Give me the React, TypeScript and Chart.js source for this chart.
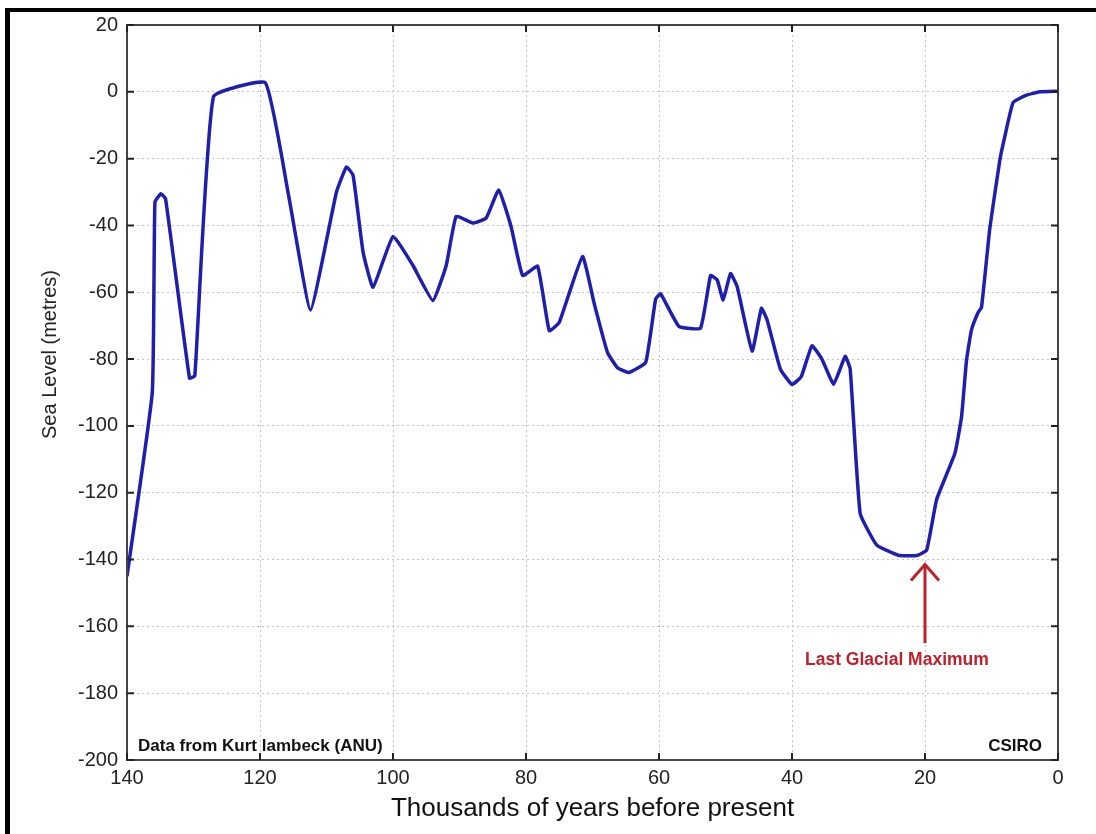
import React, { useEffect, useRef } from "react";
import { Chart, registerables } from "chart.js";

Chart.register(...registerables);

// Age in thousands of years before present
const YEARS_KA = [
  140, 136.2, 135.8, 134.9, 134.2, 130.6, 129.8, 127.0, 119.2, 115.7,
  112.4, 108.5, 107, 106, 104.5, 103, 100, 97, 94, 92,
  90.5, 88, 86, 84.1, 82.25, 80.5, 78.25, 76.5, 75, 71.5,
  69.75, 67.75, 66.25, 64.5, 62, 60.5, 59.75, 57, 53.75, 52.25,
  51.25, 50.35, 49.25, 48.25, 46, 44.6, 43.75, 41.75, 40, 38.6,
  37, 35.5, 33.75, 32, 31.25, 29.75, 27.25, 24, 21.25, 19.75,
  18.25, 15.5, 14.5, 13.75, 13, 12, 11.5, 10.25, 8.75, 8,
  6.75, 4.75, 2.75, 0,
];

// Sea level in metres relative to present
const SEA_LEVEL_M = [
  -145, -90, -33, -30.5, -32, -85.7, -85, -1.5, 2.7, -31,
  -65.3, -30, -22.5, -25, -48, -58.5, -43.3, -52, -62.5, -52,
  -37.3, -39.3, -37.8, -29.4, -40.3, -55, -52.2, -71.5, -69, -49.3,
  -63.3, -78, -82.6, -84, -81, -62, -60.5, -70.2, -70.7, -55,
  -56.3, -62.3, -54.4, -58.3, -77.6, -64.8, -68.2, -83, -87.6, -85.2,
  -76, -80, -87.5, -79.2, -83, -126.2, -135.7, -138.7, -138.8, -137.2,
  -122, -108.2, -97.2, -80.2, -71.2, -66, -64.5, -40.8, -20.5, -13.4,
  -3.2, -1, 0, 0.2,
];

const X_TICKS = [140, 120, 100, 80, 60, 40, 20, 0];
const Y_TICKS = [20, 0, -20, -40, -60, -80, -100, -120, -140, -160, -180, -200];

const X_TITLE = "Thousands of years before present";
const Y_TITLE = "Sea Level (metres)";
const SOURCE_NOTE = "Data from Kurt lambeck (ANU)";
const CREDIT = "CSIRO";
const LGM_LABEL = "Last Glacial Maximum";
const LGM_AGE = 20;
const LGM_ARROW_TIP = -141.5;
const LGM_ARROW_TAIL = -165;
const LGM_TEXT_LEVEL = -171.6;

const FONT = '"Liberation Sans", Arial, Helvetica, sans-serif';

const overlayPlugin = {
  id: "overlay",
  afterDraw(chart: any) {
    const { ctx, chartArea: a, scales } = chart;
    const x = scales.x;
    const y = scales.y;
    ctx.save();

    // axes box
    ctx.strokeStyle = "#444";
    ctx.lineWidth = 2;
    ctx.strokeRect(a.left, a.top, a.right - a.left, a.bottom - a.top);

    // inward ticks
    ctx.strokeStyle = "#222";
    ctx.lineWidth = 2;
    ctx.beginPath();
    X_TICKS.forEach((t) => {
      const px = x.getPixelForValue(t);
      ctx.moveTo(px, a.bottom);
      ctx.lineTo(px, a.bottom - 7);
      ctx.moveTo(px, a.top);
      ctx.lineTo(px, a.top + 7);
    });
    Y_TICKS.forEach((v) => {
      const py = y.getPixelForValue(v);
      ctx.moveTo(a.left, py);
      ctx.lineTo(a.left + 7, py);
      ctx.moveTo(a.right, py);
      ctx.lineTo(a.right - 7, py);
    });
    ctx.stroke();

    // corner notes
    ctx.fillStyle = "#111";
    ctx.font = `bold 17px ${FONT}`;
    ctx.textBaseline = "alphabetic";
    ctx.textAlign = "left";
    ctx.fillText(SOURCE_NOTE, a.left + 11, a.bottom - 9);
    ctx.textAlign = "right";
    ctx.fillText(CREDIT, a.right - 16, a.bottom - 9);

    // LGM arrow
    const ax = x.getPixelForValue(LGM_AGE);
    const tip = y.getPixelForValue(LGM_ARROW_TIP);
    const tail = y.getPixelForValue(LGM_ARROW_TAIL);
    ctx.strokeStyle = "#c0202c";
    ctx.lineWidth = 3;
    ctx.beginPath();
    ctx.moveTo(ax, tail);
    ctx.lineTo(ax, tip + 2);
    ctx.stroke();
    ctx.beginPath();
    ctx.moveTo(ax - 14, tip + 16);
    ctx.lineTo(ax, tip);
    ctx.lineTo(ax + 14, tip + 16);
    ctx.stroke();
    ctx.fillStyle = "#c0202c";
    ctx.textAlign = "left";
    ctx.font = `bold 17.5px ${FONT}`;
    ctx.fillText(LGM_LABEL, ax - 120, y.getPixelForValue(LGM_TEXT_LEVEL));

    // y title
    ctx.save();
    ctx.translate(50, (a.top + a.bottom) / 2 - 38);
    ctx.rotate(-Math.PI / 2);
    ctx.textAlign = "center";
    ctx.textBaseline = "middle";
    ctx.fillStyle = "#222";
    ctx.font = `20px ${FONT}`;
    ctx.fillText(Y_TITLE, 0, 0);
    ctx.restore();

    ctx.restore();
  },
};

export default function App() {
  const canvasRef = useRef<HTMLCanvasElement | null>(null);

  useEffect(() => {
    const canvas = canvasRef.current;
    if (!canvas) return;
    const points = YEARS_KA.map((t, i) => ({ x: t, y: SEA_LEVEL_M[i] }));
    const grid = {
      color: "#c4c4c4",
      lineWidth: 1,
      drawTicks: false,
    };
    const border = { display: false, dash: [2, 3] };
    const chart = new Chart(canvas, {
      type: "line",
      data: {
        datasets: [
          {
            data: points,
            borderColor: "#1f1fae",
            borderWidth: 3.5,
            borderJoinStyle: "round",
            pointRadius: 0,
            tension: 0.12,
            fill: false,
          },
        ],
      },
      options: {
        animation: false,
        responsive: false,
        maintainAspectRatio: false,
        layout: { padding: { left: 0, top: 25, right: 38, bottom: 0 } },
        plugins: {
          legend: { display: false },
          tooltip: { enabled: false },
          title: { display: false },
        },
        scales: {
          x: {
            type: "linear",
            reverse: true,
            min: 0,
            max: 140,
            afterBuildTicks: (s: any) => {
              s.ticks = X_TICKS.map((v) => ({ value: v }));
            },
            afterFit: (s: any) => {
              s.height = 74;
            },
            grid,
            border,
            ticks: {
              color: "#222",
              font: { family: FONT, size: 20 },
              padding: 6,
              maxRotation: 0,
              autoSkip: false,
            },
            title: {
              display: true,
              text: X_TITLE,
              color: "#111",
              font: { family: FONT, size: 26 },
              padding: { top: 0, bottom: 10 },
            },
          },
          y: {
            type: "linear",
            min: -200,
            max: 20,
            afterBuildTicks: (s: any) => {
              s.ticks = Y_TICKS.map((v) => ({ value: v }));
            },
            afterFit: (s: any) => {
              s.width = 127;
            },
            grid,
            border,
            ticks: {
              color: "#222",
              font: { family: FONT, size: 20 },
              padding: 9,
              autoSkip: false,
            },
          },
        },
      },
      plugins: [overlayPlugin],
    });
    return () => chart.destroy();
  }, []);

  return (
    <div>
      <canvas
        ref={canvasRef}
        width={1096}
        height={834}
        style={{ position: "absolute", left: 0, top: 0, width: 1096, height: 834, background: "#fff" }}
      />
      <div
        style={{
          position: "absolute",
          left: 5,
          top: 8,
          width: 1091,
          height: 826,
          borderTop: "4px solid #000",
          borderLeft: "5px solid #000",
          boxSizing: "border-box",
          pointerEvents: "none",
        }}
      />
    </div>
  );
}
